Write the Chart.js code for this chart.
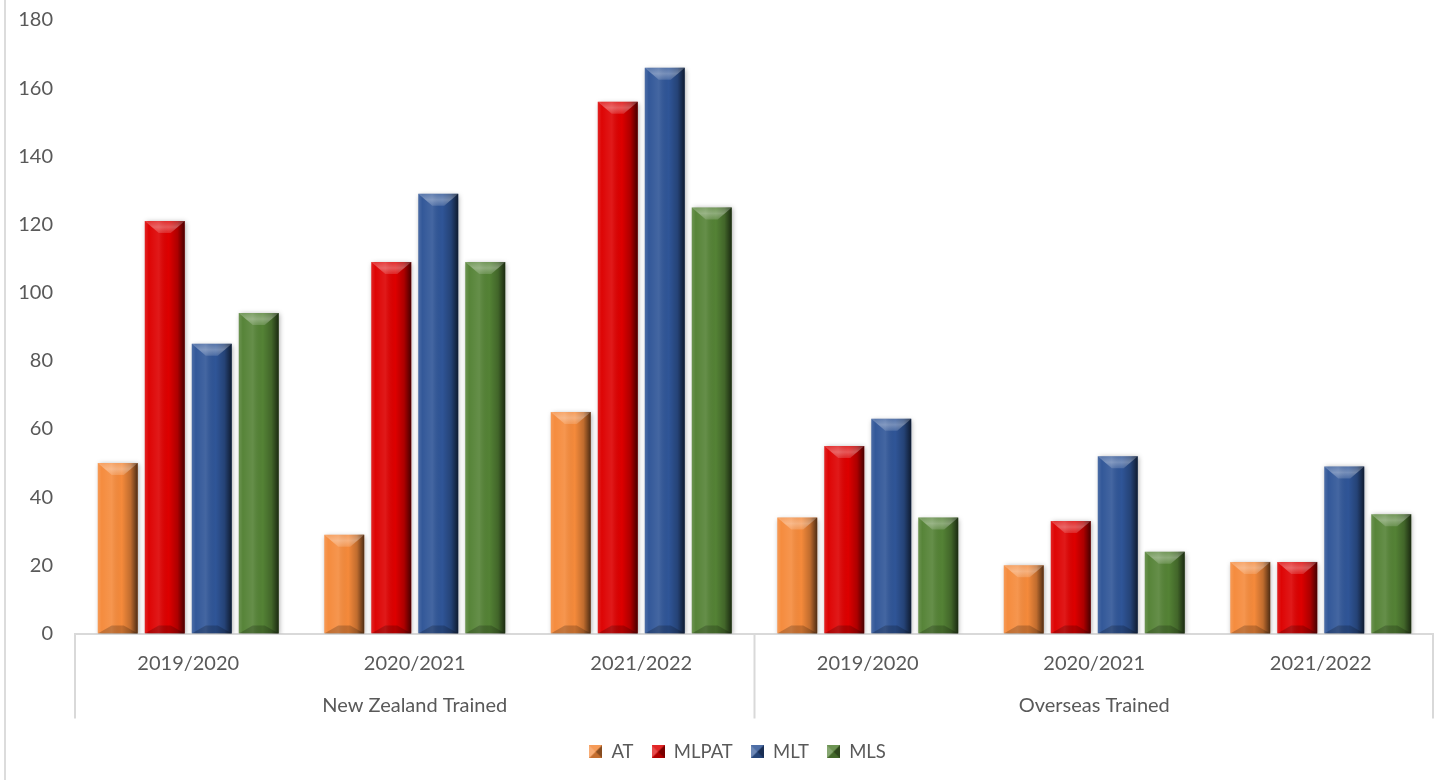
<!DOCTYPE html>
<html>
<head>
<meta charset="utf-8">
<script src="https://cdn.jsdelivr.net/npm/chart.js@4.4.1/dist/chart.umd.min.js"></script>
<style>
  html, body { margin: 0; padding: 0; background: #fff; }
  #wrap { position: relative; width: 1434px; height: 780px; }
  #frame { position: absolute; left: 4px; top: 0; width: 2px; height: 780px; background: #dcdcdc; }
</style>
</head>
<body>
<div id="wrap">
  <div id="frame"></div>
  <canvas id="chart" width="1434" height="780"></canvas>
</div>
<script>
// categories
const years = ['2019/2020', '2020/2021', '2021/2022', '2019/2020', '2020/2021', '2021/2022'];
const groups = ['New Zealand Trained', 'Overseas Trained'];

// series values
const atValues = [50, 29, 65, 34, 20, 21];
const mlpatValues = [121, 109, 156, 55, 33, 21];
const mltValues = [85, 129, 166, 63, 52, 49];
const mlsValues = [94, 109, 125, 34, 24, 35];

const seriesNames = ['AT', 'MLPAT', 'MLT', 'MLS'];
const seriesColors = ['#f58a3b', '#dd0000', '#2f5597', '#548235'];

// y axis
const yMax = 180;
const yStep = 20;

const textColor = '#595959';
const fontFamily = 'Lato, "Open Sans", sans-serif';

// bevelled look drawn over each bar
function drawBevel(ctx, l, t, w, h) {
  if (h <= 0) return;
  const body = ctx.createLinearGradient(l, 0, l + w, 0);
  body.addColorStop(0, 'rgba(255,255,255,0.14)');
  body.addColorStop(0.1, 'rgba(255,255,255,0.02)');
  body.addColorStop(0.35, 'rgba(255,255,255,0.10)');
  body.addColorStop(0.6, 'rgba(0,0,0,0)');
  body.addColorStop(0.82, 'rgba(0,0,0,0.22)');
  body.addColorStop(1, 'rgba(0,0,0,0.68)');
  ctx.fillStyle = body;
  ctx.fillRect(l, t, w, h);

  const d = Math.min(12, h / 2);
  const dx = Math.min(14, w / 2 - 3);
  const top = ctx.createLinearGradient(0, t, 0, t + d);
  top.addColorStop(0, 'rgba(255,255,255,0.18)');
  top.addColorStop(0.5, 'rgba(255,255,255,0.34)');
  top.addColorStop(1, 'rgba(255,255,255,0.14)');
  ctx.fillStyle = top;
  ctx.beginPath();
  ctx.moveTo(l, t);
  ctx.lineTo(l + w, t);
  ctx.lineTo(l + w - dx, t + d);
  ctx.lineTo(l + dx, t + d);
  ctx.closePath();
  ctx.fill();

  const db = Math.min(8, h / 3);
  ctx.fillStyle = 'rgba(0,0,0,0.2)';
  ctx.beginPath();
  ctx.moveTo(l, t + h);
  ctx.lineTo(l + w, t + h);
  ctx.lineTo(l + w - dx, t + h - db);
  ctx.lineTo(l + dx, t + h - db);
  ctx.closePath();
  ctx.fill();
}

function makeIcon(color) {
  const c = document.createElement('canvas');
  c.width = 13; c.height = 13;
  const g = c.getContext('2d');
  g.fillStyle = color;
  g.fillRect(0, 0, 13, 13);
  g.fillStyle = 'rgba(255,255,255,0.3)';
  g.beginPath(); g.moveTo(0, 0); g.lineTo(6.5, 6.5); g.lineTo(0, 13); g.closePath(); g.fill();
  g.fillStyle = 'rgba(0,0,0,0.45)';
  g.beginPath(); g.moveTo(13, 0); g.lineTo(6.5, 6.5); g.lineTo(13, 13); g.closePath(); g.fill();
  g.fillStyle = 'rgba(255,255,255,0.15)';
  g.beginPath(); g.moveTo(0, 0); g.lineTo(13, 0); g.lineTo(6.5, 6.5); g.closePath(); g.fill();
  g.fillStyle = 'rgba(0,0,0,0.2)';
  g.beginPath(); g.moveTo(0, 13); g.lineTo(13, 13); g.lineTo(6.5, 6.5); g.closePath(); g.fill();
  return c;
}
const legendIcons = seriesColors.map(makeIcon);

const bevelPlugin = {
  id: 'bevel',
  beforeDatasetsDraw(chart) {
    const ctx = chart.ctx;
    ctx.save();
    ctx.shadowColor = 'rgba(0,0,0,0.35)';
    ctx.shadowBlur = 5;
    ctx.shadowOffsetX = 1;
    ctx.shadowOffsetY = 1;
  },
  afterDatasetsDraw(chart) {
    const ctx = chart.ctx;
    ctx.restore();
    ctx.save();
    chart.data.datasets.forEach((ds, i) => {
      chart.getDatasetMeta(i).data.forEach(bar => {
        const { x, y, base, width } = bar.getProps(['x', 'y', 'base', 'width'], true);
        drawBevel(ctx, x - width / 2, y, width, base - y);
      });
    });
    ctx.restore();
  }
};

// separators between the groups, running through both label rows
const groupLinesPlugin = {
  id: 'groupLines',
  afterLayout(chart) {
    // legend sits centred under the plot area rather than the whole canvas
    const shift = chart.chartArea.left / 2 - 17;
    chart.legend.left += shift;
    chart.legend.right += shift;
  },
  afterDraw(chart) {
    const { ctx, chartArea, scales } = chart;
    const x = scales.x, x2 = scales.x2;
    const perGroup = years.length / groups.length;
    const edges = [x.left];
    for (let g = 1; g < groups.length; g++) {
      edges.push((x.getPixelForValue(g * perGroup - 1) + x.getPixelForValue(g * perGroup)) / 2);
    }
    edges.push(x.right - 1);
    ctx.save();
    ctx.strokeStyle = '#d9d9d9';
    ctx.lineWidth = 2;
    edges.forEach(px => {
      ctx.beginPath();
      ctx.moveTo(px, chartArea.bottom);
      ctx.lineTo(px, x2.bottom - 6);
      ctx.stroke();
    });
    ctx.restore();
  }
};

const allValues = [atValues, mlpatValues, mltValues, mlsValues];

new Chart(document.getElementById('chart'), {
  type: 'bar',
  data: {
    labels: years,
    datasets: seriesNames.map((name, i) => ({
      label: name,
      data: allValues[i],
      backgroundColor: seriesColors[i],
      borderWidth: 0,
      categoryPercentage: 0.83,
      barPercentage: 0.85
    }))
  },
  options: {
    responsive: false,
    animation: false,
    layout: { padding: { top: 20, right: 0, bottom: 9, left: 0 } },
    plugins: {
      tooltip: { enabled: false },
      legend: {
        position: 'bottom',
        labels: {
          usePointStyle: true,
          boxWidth: 13,
          boxHeight: 13,
          padding: 18,
          color: textColor,
          font: { family: fontFamily, size: 18.5 },
          generateLabels(chart) {
            const items = Chart.defaults.plugins.legend.labels.generateLabels(chart);
            items.forEach((it, i) => { it.pointStyle = legendIcons[i]; });
            return items;
          }
        }
      }
    },
    scales: {
      y: {
        min: 0,
        max: yMax,
        ticks: { stepSize: yStep, color: textColor, padding: 14, font: { family: fontFamily, size: 20 } },
        grid: { display: false },
        border: { display: false },
        afterFit(scale) {
          scale.width = 75;
          scale.paddingTop = 0;
          scale.paddingBottom = 0;
        }
      },
      x: {
        grid: { display: false },
        border: { display: true, color: '#d9d9d9', width: 2 },
        ticks: { color: textColor, padding: 10, maxRotation: 0, font: { family: fontFamily, size: 20 } },
        afterFit(scale) { scale.height = 50; }
      },
      x2: {
        type: 'category',
        position: 'bottom',
        labels: groups,
        offset: true,
        grid: { display: false },
        border: { display: false },
        ticks: { color: textColor, padding: 2, font: { family: fontFamily, size: 20 } },
        afterFit(scale) { scale.height = 41; }
      }
    }
  },
  plugins: [bevelPlugin, groupLinesPlugin]
});
</script>
</body>
</html>
